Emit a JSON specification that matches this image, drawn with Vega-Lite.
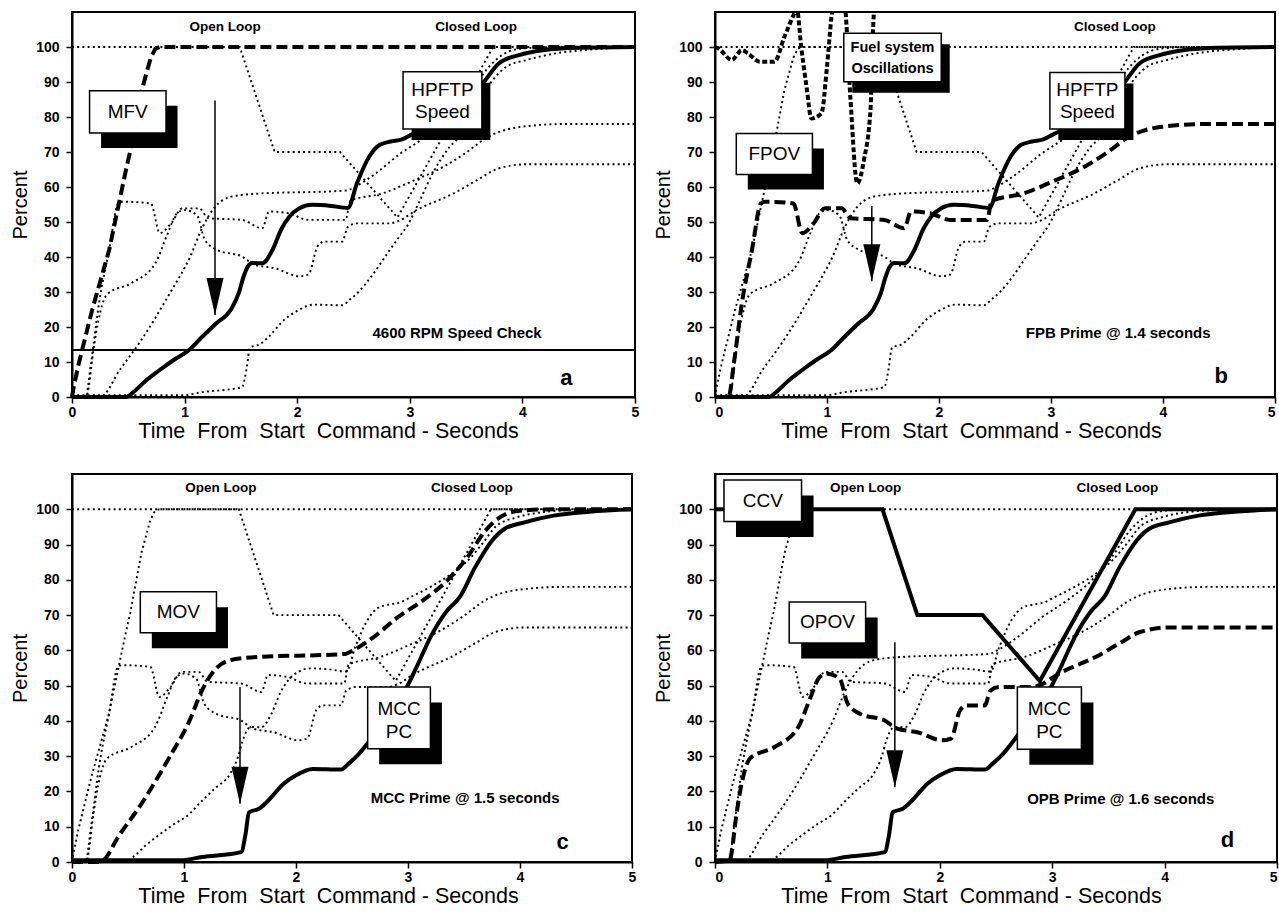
{
  "$schema": "https://vega.github.io/schema/vega-lite/v6.json",
  "background": "white",
  "padding": {"left": 9, "top": 11, "right": 0, "bottom": 0},
  "columns": 2,
  "spacing": {"row": 77, "column": 80},
  "bounds": "flush",
  "config": {
    "font": "Liberation Sans",
    "view": {"stroke": "black", "strokeWidth": 2},
    "text": {"font": "Liberation Sans", "color": "black"},
    "axis": {"grid": false, "domainColor": "black", "domainWidth": 2, "tickColor": "black", "tickWidth": 1.5, "tickSize": 6, "labelFont": "Liberation Sans", "labelFontWeight": "bold", "labelFontSize": 14, "labelColor": "black", "titleFont": "Liberation Sans", "titleFontWeight": "normal", "titleColor": "black", "labelFlush": false, "labelOverlap": false},
    "axisX": {"labelPadding": 2, "titleFontSize": 21.5, "titlePadding": 1, "titleX": 256},
    "axisY": {"labelPadding": 7, "titleFontSize": 20, "titlePadding": 5}
  },
  "datasets": {
    "traces": [
      {"s":"MFV","t":0,"v":0},{"s":"MFV","t":0.01,"v":2},{"s":"MFV","t":0.06,"v":9.6},{"s":"MFV","t":0.18,"v":25},{"s":"MFV","t":0.33,"v":42},{"s":"MFV","t":0.48,"v":65},{"s":"MFV","t":0.52,"v":70.6},{"s":"MFV","t":0.62,"v":87.7},{"s":"MFV","t":0.7,"v":97},{"s":"MFV","t":0.74,"v":99.5},{"s":"MFV","t":0.78,"v":100},{"s":"MFV","t":5,"v":100},
      {"s":"FPOV","t":0,"v":0},{"s":"FPOV","t":0.12,"v":0},{"s":"FPOV","t":0.17,"v":10},{"s":"FPOV","t":0.24,"v":26.8},{"s":"FPOV","t":0.33,"v":42},{"s":"FPOV","t":0.41,"v":55.3},{"s":"FPOV","t":0.45,"v":55.8},{"s":"FPOV","t":0.7,"v":55.3},{"s":"FPOV","t":0.78,"v":46.8},{"s":"FPOV","t":0.88,"v":49.6},{"s":"FPOV","t":0.98,"v":53.9},{"s":"FPOV","t":1.13,"v":53.9},{"s":"FPOV","t":1.21,"v":51.1},{"s":"FPOV","t":1.51,"v":50.6},{"s":"FPOV","t":1.69,"v":48.2},{"s":"FPOV","t":1.75,"v":53},{"s":"FPOV","t":1.92,"v":52.5},{"s":"FPOV","t":2.1,"v":50.6},{"s":"FPOV","t":2.43,"v":50.6},{"s":"FPOV","t":2.47,"v":56},{"s":"FPOV","t":2.76,"v":58.2},{"s":"FPOV","t":3.01,"v":61.5},{"s":"FPOV","t":3.3,"v":65.8},{"s":"FPOV","t":3.49,"v":69.6},{"s":"FPOV","t":3.7,"v":74.4},{"s":"FPOV","t":3.99,"v":77.2},{"s":"FPOV","t":4.39,"v":78},{"s":"FPOV","t":5,"v":78},
      {"s":"MOV","t":0,"v":0},{"s":"MOV","t":0.25,"v":0},{"s":"MOV","t":0.43,"v":8},{"s":"MOV","t":0.62,"v":16.5},{"s":"MOV","t":0.87,"v":29.7},{"s":"MOV","t":1.05,"v":40.1},{"s":"MOV","t":1.16,"v":48.6},{"s":"MOV","t":1.27,"v":54.3},{"s":"MOV","t":1.4,"v":57.1},{"s":"MOV","t":1.6,"v":58},{"s":"MOV","t":2.44,"v":59},{"s":"MOV","t":2.51,"v":60},{"s":"MOV","t":2.69,"v":63.7},{"s":"MOV","t":2.91,"v":69.4},{"s":"MOV","t":3.13,"v":74.1},{"s":"MOV","t":3.35,"v":79.8},{"s":"MOV","t":3.53,"v":86.4},{"s":"MOV","t":3.69,"v":93.9},{"s":"MOV","t":3.82,"v":97.7},{"s":"MOV","t":4.0,"v":99.6},{"s":"MOV","t":4.3,"v":100},{"s":"MOV","t":5,"v":100},
      {"s":"OPOV","t":0,"v":0},{"s":"OPOV","t":0.13,"v":0.5},{"s":"OPOV","t":0.15,"v":3},{"s":"OPOV","t":0.18,"v":10.9},{"s":"OPOV","t":0.25,"v":24.1},{"s":"OPOV","t":0.31,"v":29.3},{"s":"OPOV","t":0.53,"v":32.6},{"s":"OPOV","t":0.74,"v":38.2},{"s":"OPOV","t":0.85,"v":46.7},{"s":"OPOV","t":0.93,"v":52.4},{"s":"OPOV","t":1.0,"v":53.4},{"s":"OPOV","t":1.11,"v":51.9},{"s":"OPOV","t":1.18,"v":44.9},{"s":"OPOV","t":1.29,"v":42},{"s":"OPOV","t":1.51,"v":40.1},{"s":"OPOV","t":1.62,"v":37.8},{"s":"OPOV","t":1.8,"v":36.8},{"s":"OPOV","t":2.02,"v":34.5},{"s":"OPOV","t":2.1,"v":35},{"s":"OPOV","t":2.18,"v":43},{"s":"OPOV","t":2.24,"v":44.4},{"s":"OPOV","t":2.4,"v":44.4},{"s":"OPOV","t":2.45,"v":48.6},{"s":"OPOV","t":2.53,"v":49.6},{"s":"OPOV","t":2.82,"v":49.6},{"s":"OPOV","t":2.9,"v":50.3},{"s":"OPOV","t":3.06,"v":53.4},{"s":"OPOV","t":3.39,"v":58.2},{"s":"OPOV","t":3.6,"v":62},{"s":"OPOV","t":3.78,"v":65.2},{"s":"OPOV","t":4.04,"v":66.5},{"s":"OPOV","t":5,"v":66.5},
      {"s":"CCV","t":0,"v":100},{"s":"CCV","t":1.49,"v":100},{"s":"CCV","t":1.8,"v":70},{"s":"CCV","t":2.38,"v":70},{"s":"CCV","t":2.89,"v":51.3},{"s":"CCV","t":3.74,"v":100},{"s":"CCV","t":5,"v":100},
      {"s":"HPFTP","t":0,"v":0},{"s":"HPFTP","t":0.48,"v":0},{"s":"HPFTP","t":0.55,"v":1.5},{"s":"HPFTP","t":0.65,"v":4.5},{"s":"HPFTP","t":0.77,"v":7.5},{"s":"HPFTP","t":0.9,"v":10.5},{"s":"HPFTP","t":1.04,"v":13.4},{"s":"HPFTP","t":1.15,"v":17},{"s":"HPFTP","t":1.28,"v":21},{"s":"HPFTP","t":1.41,"v":24.9},{"s":"HPFTP","t":1.48,"v":29.6},{"s":"HPFTP","t":1.52,"v":34},{"s":"HPFTP","t":1.56,"v":37.2},{"s":"HPFTP","t":1.6,"v":38.3},{"s":"HPFTP","t":1.69,"v":38.2},{"s":"HPFTP","t":1.78,"v":42},{"s":"HPFTP","t":1.86,"v":48},{"s":"HPFTP","t":1.93,"v":51.5},{"s":"HPFTP","t":2.02,"v":53.9},{"s":"HPFTP","t":2.13,"v":54.9},{"s":"HPFTP","t":2.3,"v":54.6},{"s":"HPFTP","t":2.45,"v":54},{"s":"HPFTP","t":2.53,"v":61},{"s":"HPFTP","t":2.64,"v":68.7},{"s":"HPFTP","t":2.73,"v":72},{"s":"HPFTP","t":2.83,"v":73},{"s":"HPFTP","t":2.93,"v":73.6},{"s":"HPFTP","t":3.01,"v":74.9},{"s":"HPFTP","t":3.2,"v":78},{"s":"HPFTP","t":3.4,"v":82},{"s":"HPFTP","t":3.55,"v":86},{"s":"HPFTP","t":3.66,"v":90.1},{"s":"HPFTP","t":3.79,"v":95.3},{"s":"HPFTP","t":3.97,"v":97.7},{"s":"HPFTP","t":4.18,"v":99.1},{"s":"HPFTP","t":4.5,"v":99.8},{"s":"HPFTP","t":5,"v":100},
      {"s":"MCC","t":0,"v":0.5},{"s":"MCC","t":0.98,"v":0.5},{"s":"MCC","t":1.16,"v":1.4},{"s":"MCC","t":1.51,"v":2.8},{"s":"MCC","t":1.55,"v":8},{"s":"MCC","t":1.58,"v":14.1},{"s":"MCC","t":1.67,"v":15.1},{"s":"MCC","t":1.74,"v":17},{"s":"MCC","t":1.89,"v":22.2},{"s":"MCC","t":2.0,"v":24.6},{"s":"MCC","t":2.15,"v":26.4},{"s":"MCC","t":2.4,"v":26.2},{"s":"MCC","t":2.47,"v":27.9},{"s":"MCC","t":2.55,"v":30.2},{"s":"MCC","t":2.66,"v":34.5},{"s":"MCC","t":2.8,"v":41},{"s":"MCC","t":2.9,"v":45.5},{"s":"MCC","t":2.98,"v":49.1},{"s":"MCC","t":3.09,"v":56.2},{"s":"MCC","t":3.2,"v":63.7},{"s":"MCC","t":3.35,"v":71.3},{"s":"MCC","t":3.46,"v":75},{"s":"MCC","t":3.6,"v":83.6},{"s":"MCC","t":3.75,"v":91.1},{"s":"MCC","t":3.86,"v":94.4},{"s":"MCC","t":4.04,"v":96.3},{"s":"MCC","t":4.3,"v":98.2},{"s":"MCC","t":4.62,"v":99.3},{"s":"MCC","t":5,"v":100}
    ],
    "osc": [
      {"t":0,"v":100},{"t":0.03,"v":99.6},{"t":0.15,"v":96.3},{"t":0.24,"v":99.1},{"t":0.3,"v":98},{"t":0.4,"v":95.8},{"t":0.53,"v":95.8},{"t":0.62,"v":102.9},{"t":0.7,"v":109},{"t":0.73,"v":111},{"t":0.77,"v":100},{"t":0.82,"v":88},{"t":0.86,"v":79.6},{"t":0.95,"v":81},{"t":1.0,"v":94.4},{"t":1.04,"v":108.7},{"t":1.1,"v":120},{"t":1.16,"v":112},{"t":1.21,"v":84.9},{"t":1.27,"v":61},{"t":1.33,"v":67.7},{"t":1.39,"v":83},{"t":1.41,"v":103.9},{"t":1.44,"v":120}
    ],
    "boxes": [
      {"p":"a","label":"MFV","t1":0.156,"t2":0.835,"v1":75.4,"v2":87.5,"tc":0.495,"vc":81.5},
      {"p":"a","label":"HPFTP\nSpeed","t1":2.94,"t2":3.64,"v1":76.6,"v2":92.9,"tc":3.29,"vc":87.8},
      {"p":"b","label":"Fuel system\nOscillations","t1":1.15,"t2":2.02,"v1":90.1,"v2":103.9,"tc":1.585,"vc":99.8},
      {"p":"b","label":"FPOV","t1":0.19,"t2":0.87,"v1":63.6,"v2":75.3,"tc":0.53,"vc":69.5},
      {"p":"b","label":"HPFTP\nSpeed","t1":2.99,"t2":3.66,"v1":76.6,"v2":92.7,"tc":3.325,"vc":87.7},
      {"p":"c","label":"MOV","t1":0.61,"t2":1.29,"v1":65.0,"v2":76.6,"tc":0.95,"vc":70.8},
      {"p":"c","label":"MCC\nPC","t1":2.64,"t2":3.2,"v1":32.1,"v2":49.6,"tc":2.92,"vc":43.5},
      {"p":"d","label":"CCV","t1":0.08,"t2":0.77,"v1":96.5,"v2":108.3,"tc":0.425,"vc":102.4},
      {"p":"d","label":"OPOV","t1":0.66,"t2":1.34,"v1":62.1,"v2":73.7,"tc":1.0,"vc":67.9},
      {"p":"d","label":"MCC\nPC","t1":2.69,"t2":3.26,"v1":32.0,"v2":49.6,"tc":2.975,"vc":43.5}
    ],
    "loops": [
      {"p":"a","txt":"Open Loop","t":1.36,"v":105.8},{"p":"a","txt":"Closed Loop","t":3.59,"v":105.8},
      {"p":"b","txt":"Closed Loop","t":3.57,"v":105.8},
      {"p":"c","txt":"Open Loop","t":1.33,"v":106},{"p":"c","txt":"Closed Loop","t":3.57,"v":106},
      {"p":"d","txt":"Open Loop","t":1.34,"v":106},{"p":"d","txt":"Closed Loop","t":3.58,"v":106}
    ],
    "notes": [
      {"p":"a","txt":"4600 RPM Speed Check","t":3.42,"v":18.3},
      {"p":"b","txt":"FPB Prime @ 1.4 seconds","t":3.6,"v":18.3},
      {"p":"c","txt":"MCC Prime @ 1.5 seconds","t":3.51,"v":18.2},
      {"p":"d","txt":"OPB Prime @ 1.6 seconds","t":3.61,"v":18}
    ],
    "letters": [
      {"p":"a","txt":"a","t":4.39,"v":5.5},{"p":"b","txt":"b","t":4.52,"v":6},{"p":"c","txt":"c","t":4.38,"v":5.7},{"p":"d","txt":"d","t":4.56,"v":6.2}
    ],
    "arrows": [
      {"p":"a","t":1.27,"top":84.7,"tip":23.4},
      {"p":"b","t":1.4,"top":54.6,"tip":33.1},
      {"p":"c","t":1.5,"top":49.6,"tip":16.5},
      {"p":"d","t":1.6,"top":62.3,"tip":21.2}
    ]
  },
  "concat": [
    {
      "width": 563, "height": 385,
      "resolve": {"axis": {"x": "independent", "y": "independent"}},
      "layer": [
        {"data": {"name": "traces"}, "transform": [{"filter": "datum.s === 'FPOV' || datum.s === 'MOV' || datum.s === 'OPOV' || datum.s === 'MCC'"}],
         "mark": {"type": "line", "interpolate": "monotone", "color": "black", "strokeWidth": 1.9, "strokeDash": [2, 3.2], "strokeCap": "butt"},
         "encoding": {
           "x": {"field": "t", "type": "quantitative", "scale": {"domain": [0, 5], "nice": false}, "axis": {"values": [0, 1, 2, 3, 4, 5], "format": "d", "labelOverlap": false, "labelFlush": false, "title": "Time\u00a0 From\u00a0 Start\u00a0 Command - Seconds"}},
           "y": {"field": "v", "type": "quantitative", "scale": {"domain": [0, 110], "nice": false}, "axis": {"values": [0, 10, 20, 30, 40, 50, 60, 70, 80, 90, 100], "format": "d", "labelOverlap": false, "title": "Percent"}},
           "detail": {"field": "s"}}},
        {"data": {"name": "traces"}, "transform": [{"filter": "datum.s === 'CCV'"}],
         "mark": {"type": "line", "color": "black", "strokeWidth": 1.9, "strokeDash": [2, 3.2], "strokeCap": "butt"},
         "encoding": {"x": {"field": "t", "type": "quantitative", "axis": null}, "y": {"field": "v", "type": "quantitative", "axis": null}, "detail": {"field": "s"}}},
        {"data": {"name": "traces"}, "transform": [{"filter": "datum.s === 'MFV'"}],
         "mark": {"type": "line", "color": "black", "strokeWidth": 4, "strokeDash": [11, 5], "strokeCap": "butt"},
         "encoding": {"x": {"field": "t", "type": "quantitative", "axis": null}, "y": {"field": "v", "type": "quantitative", "axis": null}}},
        {"data": {"name": "traces"}, "transform": [{"filter": "datum.s === 'HPFTP'"}],
         "mark": {"type": "line", "interpolate": "monotone", "color": "black", "strokeWidth": 4},
         "encoding": {"x": {"field": "t", "type": "quantitative", "axis": null}, "y": {"field": "v", "type": "quantitative", "axis": null}}},
        {"data": {"values": [{"v": 13.4}]},
         "mark": {"type": "rule", "color": "black", "strokeWidth": 2},
         "encoding": {"y": {"field": "v", "type": "quantitative", "axis": null}}},
        {"data": {"name": "arrows"}, "transform": [{"filter": "datum.p === 'a'"}],
         "mark": {"type": "rule", "color": "black", "strokeWidth": 1.5},
         "encoding": {"x": {"field": "t", "type": "quantitative", "axis": null}, "y": {"field": "top", "type": "quantitative", "axis": null}, "y2": {"field": "tip"}}},
        {"data": {"name": "arrows"}, "transform": [{"filter": "datum.p === 'a'"}],
         "mark": {"type": "point", "shape": "M-0.46,-2L0.46,-2L0,0Z", "size": 1369, "filled": true, "color": "black", "opacity": 1, "strokeWidth": 0},
         "encoding": {"x": {"field": "t", "type": "quantitative", "axis": null}, "y": {"field": "tip", "type": "quantitative", "axis": null}}},
        {"data": {"name": "boxes"}, "transform": [{"filter": "datum.p === 'a' && indexof(datum.label, 'HPFTP') < 0 && indexof(datum.label, 'Fuel') < 0"}],
         "mark": {"type": "rect", "color": "black", "xOffset": 11.5, "x2Offset": 11.5, "yOffset": 15, "y2Offset": 15},
         "encoding": {"x": {"field": "t1", "type": "quantitative", "axis": null}, "x2": {"field": "t2"}, "y": {"field": "v1", "type": "quantitative", "axis": null}, "y2": {"field": "v2"}}},
        {"data": {"name": "boxes"}, "transform": [{"filter": "datum.p === 'a' && (indexof(datum.label, 'HPFTP') >= 0 || indexof(datum.label, 'Fuel') >= 0)"}],
         "mark": {"type": "rect", "color": "black", "xOffset": 8.5, "x2Offset": 8.5, "yOffset": 11, "y2Offset": 11},
         "encoding": {"x": {"field": "t1", "type": "quantitative", "axis": null}, "x2": {"field": "t2"}, "y": {"field": "v1", "type": "quantitative", "axis": null}, "y2": {"field": "v2"}}},
        {"data": {"name": "boxes"}, "transform": [{"filter": "datum.p === 'a'"}],
         "mark": {"type": "rect", "fill": "white", "stroke": "black", "strokeWidth": 1.5},
         "encoding": {"x": {"field": "t1", "type": "quantitative", "axis": null}, "x2": {"field": "t2"}, "y": {"field": "v1", "type": "quantitative", "axis": null}, "y2": {"field": "v2"}}},
        {"data": {"name": "boxes"}, "transform": [{"filter": "datum.p === 'a'"}],
         "mark": {"type": "text", "fontSize": 19, "lineHeight": 22, "lineBreak": "\n", "align": "center", "baseline": "middle"},
         "encoding": {"x": {"field": "tc", "type": "quantitative", "axis": null}, "y": {"field": "vc", "type": "quantitative", "axis": null}, "text": {"field": "label"}}},
        {"data": {"name": "loops"}, "transform": [{"filter": "datum.p === 'a'"}],
         "mark": {"type": "text", "fontSize": 13.5, "fontWeight": "bold", "align": "center", "baseline": "middle"},
         "encoding": {"x": {"field": "t", "type": "quantitative", "axis": null}, "y": {"field": "v", "type": "quantitative", "axis": null}, "text": {"field": "txt"}}},
        {"data": {"name": "notes"}, "transform": [{"filter": "datum.p === 'a'"}],
         "mark": {"type": "text", "fontSize": 15, "fontWeight": "bold", "align": "center", "baseline": "middle"},
         "encoding": {"x": {"field": "t", "type": "quantitative", "axis": null}, "y": {"field": "v", "type": "quantitative", "axis": null}, "text": {"field": "txt"}}},
        {"data": {"name": "letters"}, "transform": [{"filter": "datum.p === 'a'"}],
         "mark": {"type": "text", "fontSize": 22, "fontWeight": "bold", "align": "center", "baseline": "middle"},
         "encoding": {"x": {"field": "t", "type": "quantitative", "axis": null}, "y": {"field": "v", "type": "quantitative", "axis": null}, "text": {"field": "txt"}}}
      ]
    },
    {
      "width": 560, "height": 385,
      "resolve": {"axis": {"x": "independent", "y": "independent"}},
      "layer": [
        {"data": {"name": "traces"}, "transform": [{"filter": "datum.s === 'MOV' || datum.s === 'OPOV' || datum.s === 'MCC'"}],
         "mark": {"type": "line", "interpolate": "monotone", "color": "black", "strokeWidth": 1.9, "strokeDash": [2, 3.2], "strokeCap": "butt"},
         "encoding": {
           "x": {"field": "t", "type": "quantitative", "scale": {"domain": [0, 5], "nice": false}, "axis": {"values": [0, 1, 2, 3, 4, 5], "format": "d", "labelOverlap": false, "labelFlush": true, "title": "Time\u00a0 From\u00a0 Start\u00a0 Command - Seconds"}},
           "y": {"field": "v", "type": "quantitative", "scale": {"domain": [0, 110], "nice": false}, "axis": {"values": [0, 10, 20, 30, 40, 50, 60, 70, 80, 90, 100], "format": "d", "labelOverlap": false, "title": "Percent"}},
           "detail": {"field": "s"}}},
        {"data": {"name": "traces"}, "transform": [{"filter": "datum.s === 'CCV' || datum.s === 'MFV'"}],
         "mark": {"type": "line", "color": "black", "strokeWidth": 1.9, "strokeDash": [2, 3.2], "strokeCap": "butt"},
         "encoding": {"x": {"field": "t", "type": "quantitative", "axis": null}, "y": {"field": "v", "type": "quantitative", "axis": null}, "detail": {"field": "s"}}},
        {"data": {"name": "osc"},
         "mark": {"type": "line", "interpolate": "monotone", "clip": true, "color": "black", "strokeWidth": 4, "strokeDash": [5, 2.5], "strokeCap": "butt"},
         "encoding": {"x": {"field": "t", "type": "quantitative", "axis": null, "scale": {"domain": [0, 5], "nice": false}}, "y": {"field": "v", "type": "quantitative", "axis": null, "scale": {"domain": [0, 110], "nice": false}}}},
        {"data": {"name": "traces"}, "transform": [{"filter": "datum.s === 'FPOV'"}],
         "mark": {"type": "line", "interpolate": "monotone", "color": "black", "strokeWidth": 4, "strokeDash": [11, 5], "strokeCap": "butt"},
         "encoding": {"x": {"field": "t", "type": "quantitative", "axis": null}, "y": {"field": "v", "type": "quantitative", "axis": null}}},
        {"data": {"name": "traces"}, "transform": [{"filter": "datum.s === 'HPFTP'"}],
         "mark": {"type": "line", "interpolate": "monotone", "color": "black", "strokeWidth": 4},
         "encoding": {"x": {"field": "t", "type": "quantitative", "axis": null}, "y": {"field": "v", "type": "quantitative", "axis": null}}},
        {"data": {"name": "arrows"}, "transform": [{"filter": "datum.p === 'b'"}],
         "mark": {"type": "rule", "color": "black", "strokeWidth": 1.5},
         "encoding": {"x": {"field": "t", "type": "quantitative", "axis": null}, "y": {"field": "top", "type": "quantitative", "axis": null}, "y2": {"field": "tip"}}},
        {"data": {"name": "arrows"}, "transform": [{"filter": "datum.p === 'b'"}],
         "mark": {"type": "point", "shape": "M-0.46,-2L0.46,-2L0,0Z", "size": 1369, "filled": true, "color": "black", "opacity": 1, "strokeWidth": 0},
         "encoding": {"x": {"field": "t", "type": "quantitative", "axis": null}, "y": {"field": "tip", "type": "quantitative", "axis": null}}},
        {"data": {"name": "boxes"}, "transform": [{"filter": "datum.p === 'b' && indexof(datum.label, 'HPFTP') < 0 && indexof(datum.label, 'Fuel') < 0"}],
         "mark": {"type": "rect", "color": "black", "xOffset": 11.5, "x2Offset": 11.5, "yOffset": 15, "y2Offset": 15},
         "encoding": {"x": {"field": "t1", "type": "quantitative", "axis": null}, "x2": {"field": "t2"}, "y": {"field": "v1", "type": "quantitative", "axis": null}, "y2": {"field": "v2"}}},
        {"data": {"name": "boxes"}, "transform": [{"filter": "datum.p === 'b' && (indexof(datum.label, 'HPFTP') >= 0 || indexof(datum.label, 'Fuel') >= 0)"}],
         "mark": {"type": "rect", "color": "black", "xOffset": 8.5, "x2Offset": 8.5, "yOffset": 11, "y2Offset": 11},
         "encoding": {"x": {"field": "t1", "type": "quantitative", "axis": null}, "x2": {"field": "t2"}, "y": {"field": "v1", "type": "quantitative", "axis": null}, "y2": {"field": "v2"}}},
        {"data": {"name": "boxes"}, "transform": [{"filter": "datum.p === 'b'"}],
         "mark": {"type": "rect", "fill": "white", "stroke": "black", "strokeWidth": 1.5},
         "encoding": {"x": {"field": "t1", "type": "quantitative", "axis": null}, "x2": {"field": "t2"}, "y": {"field": "v1", "type": "quantitative", "axis": null}, "y2": {"field": "v2"}}},
        {"data": {"name": "boxes"}, "transform": [{"filter": "datum.p === 'b' && indexof(datum.label, 'Fuel') < 0"}],
         "mark": {"type": "text", "fontSize": 19, "lineHeight": 22, "lineBreak": "\n", "align": "center", "baseline": "middle"},
         "encoding": {"x": {"field": "tc", "type": "quantitative", "axis": null}, "y": {"field": "vc", "type": "quantitative", "axis": null}, "text": {"field": "label"}}},
        {"data": {"name": "boxes"}, "transform": [{"filter": "datum.p === 'b' && indexof(datum.label, 'Fuel') >= 0"}],
         "mark": {"type": "text", "fontSize": 14.5, "fontWeight": "bold", "lineHeight": 21, "lineBreak": "\n", "align": "center", "baseline": "middle"},
         "encoding": {"x": {"field": "tc", "type": "quantitative", "axis": null}, "y": {"field": "vc", "type": "quantitative", "axis": null}, "text": {"field": "label"}}},
        {"data": {"name": "loops"}, "transform": [{"filter": "datum.p === 'b'"}],
         "mark": {"type": "text", "fontSize": 13.5, "fontWeight": "bold", "align": "center", "baseline": "middle"},
         "encoding": {"x": {"field": "t", "type": "quantitative", "axis": null}, "y": {"field": "v", "type": "quantitative", "axis": null}, "text": {"field": "txt"}}},
        {"data": {"name": "notes"}, "transform": [{"filter": "datum.p === 'b'"}],
         "mark": {"type": "text", "fontSize": 15, "fontWeight": "bold", "align": "center", "baseline": "middle"},
         "encoding": {"x": {"field": "t", "type": "quantitative", "axis": null}, "y": {"field": "v", "type": "quantitative", "axis": null}, "text": {"field": "txt"}}},
        {"data": {"name": "letters"}, "transform": [{"filter": "datum.p === 'b'"}],
         "mark": {"type": "text", "fontSize": 22, "fontWeight": "bold", "align": "center", "baseline": "middle"},
         "encoding": {"x": {"field": "t", "type": "quantitative", "axis": null}, "y": {"field": "v", "type": "quantitative", "axis": null}, "text": {"field": "txt"}}}
      ]
    },
    {
      "width": 560, "height": 388,
      "resolve": {"axis": {"x": "independent", "y": "independent"}},
      "layer": [
        {"data": {"name": "traces"}, "transform": [{"filter": "datum.s === 'FPOV' || datum.s === 'OPOV' || datum.s === 'HPFTP'"}],
         "mark": {"type": "line", "interpolate": "monotone", "color": "black", "strokeWidth": 1.9, "strokeDash": [2, 3.2], "strokeCap": "butt"},
         "encoding": {
           "x": {"field": "t", "type": "quantitative", "scale": {"domain": [0, 5], "nice": false}, "axis": {"values": [0, 1, 2, 3, 4, 5], "format": "d", "labelOverlap": false, "labelFlush": false, "title": "Time\u00a0 From\u00a0 Start\u00a0 Command - Seconds"}},
           "y": {"field": "v", "type": "quantitative", "scale": {"domain": [0, 110], "nice": false}, "axis": {"values": [0, 10, 20, 30, 40, 50, 60, 70, 80, 90, 100], "format": "d", "labelOverlap": false, "title": "Percent"}},
           "detail": {"field": "s"}}},
        {"data": {"name": "traces"}, "transform": [{"filter": "datum.s === 'CCV' || datum.s === 'MFV'"}],
         "mark": {"type": "line", "color": "black", "strokeWidth": 1.9, "strokeDash": [2, 3.2], "strokeCap": "butt"},
         "encoding": {"x": {"field": "t", "type": "quantitative", "axis": null}, "y": {"field": "v", "type": "quantitative", "axis": null}, "detail": {"field": "s"}}},
        {"data": {"name": "traces"}, "transform": [{"filter": "datum.s === 'MOV'"}],
         "mark": {"type": "line", "interpolate": "monotone", "color": "black", "strokeWidth": 4, "strokeDash": [11, 5], "strokeCap": "butt"},
         "encoding": {"x": {"field": "t", "type": "quantitative", "axis": null}, "y": {"field": "v", "type": "quantitative", "axis": null}}},
        {"data": {"name": "traces"}, "transform": [{"filter": "datum.s === 'MCC'"}],
         "mark": {"type": "line", "interpolate": "monotone", "color": "black", "strokeWidth": 4},
         "encoding": {"x": {"field": "t", "type": "quantitative", "axis": null}, "y": {"field": "v", "type": "quantitative", "axis": null}}},
        {"data": {"name": "arrows"}, "transform": [{"filter": "datum.p === 'c'"}],
         "mark": {"type": "rule", "color": "black", "strokeWidth": 1.5},
         "encoding": {"x": {"field": "t", "type": "quantitative", "axis": null}, "y": {"field": "top", "type": "quantitative", "axis": null}, "y2": {"field": "tip"}}},
        {"data": {"name": "arrows"}, "transform": [{"filter": "datum.p === 'c'"}],
         "mark": {"type": "point", "shape": "M-0.46,-2L0.46,-2L0,0Z", "size": 1369, "filled": true, "color": "black", "opacity": 1, "strokeWidth": 0},
         "encoding": {"x": {"field": "t", "type": "quantitative", "axis": null}, "y": {"field": "tip", "type": "quantitative", "axis": null}}},
        {"data": {"name": "boxes"}, "transform": [{"filter": "datum.p === 'c'"}],
         "mark": {"type": "rect", "color": "black", "xOffset": 11.5, "x2Offset": 11.5, "yOffset": 15.5, "y2Offset": 15.5},
         "encoding": {"x": {"field": "t1", "type": "quantitative", "axis": null}, "x2": {"field": "t2"}, "y": {"field": "v1", "type": "quantitative", "axis": null}, "y2": {"field": "v2"}}},
        {"data": {"name": "boxes"}, "transform": [{"filter": "datum.p === 'c'"}],
         "mark": {"type": "rect", "fill": "white", "stroke": "black", "strokeWidth": 1.5},
         "encoding": {"x": {"field": "t1", "type": "quantitative", "axis": null}, "x2": {"field": "t2"}, "y": {"field": "v1", "type": "quantitative", "axis": null}, "y2": {"field": "v2"}}},
        {"data": {"name": "boxes"}, "transform": [{"filter": "datum.p === 'c'"}],
         "mark": {"type": "text", "fontSize": 19, "lineHeight": 23, "lineBreak": "\n", "align": "center", "baseline": "middle"},
         "encoding": {"x": {"field": "tc", "type": "quantitative", "axis": null}, "y": {"field": "vc", "type": "quantitative", "axis": null}, "text": {"field": "label"}}},
        {"data": {"name": "loops"}, "transform": [{"filter": "datum.p === 'c'"}],
         "mark": {"type": "text", "fontSize": 13.5, "fontWeight": "bold", "align": "center", "baseline": "middle"},
         "encoding": {"x": {"field": "t", "type": "quantitative", "axis": null}, "y": {"field": "v", "type": "quantitative", "axis": null}, "text": {"field": "txt"}}},
        {"data": {"name": "notes"}, "transform": [{"filter": "datum.p === 'c'"}],
         "mark": {"type": "text", "fontSize": 15, "fontWeight": "bold", "align": "center", "baseline": "middle"},
         "encoding": {"x": {"field": "t", "type": "quantitative", "axis": null}, "y": {"field": "v", "type": "quantitative", "axis": null}, "text": {"field": "txt"}}},
        {"data": {"name": "letters"}, "transform": [{"filter": "datum.p === 'c'"}],
         "mark": {"type": "text", "fontSize": 22, "fontWeight": "bold", "align": "center", "baseline": "middle"},
         "encoding": {"x": {"field": "t", "type": "quantitative", "axis": null}, "y": {"field": "v", "type": "quantitative", "axis": null}, "text": {"field": "txt"}}}
      ]
    },
    {
      "width": 562, "height": 388,
      "resolve": {"axis": {"x": "independent", "y": "independent"}},
      "layer": [
        {"data": {"name": "traces"}, "transform": [{"filter": "datum.s === 'FPOV' || datum.s === 'MOV' || datum.s === 'HPFTP'"}],
         "mark": {"type": "line", "interpolate": "monotone", "color": "black", "strokeWidth": 1.9, "strokeDash": [2, 3.2], "strokeCap": "butt"},
         "encoding": {
           "x": {"field": "t", "type": "quantitative", "scale": {"domain": [0, 5], "nice": false}, "axis": {"values": [0, 1, 2, 3, 4, 5], "format": "d", "labelOverlap": false, "labelFlush": true, "title": "Time\u00a0 From\u00a0 Start\u00a0 Command - Seconds"}},
           "y": {"field": "v", "type": "quantitative", "scale": {"domain": [0, 110], "nice": false}, "axis": {"values": [0, 10, 20, 30, 40, 50, 60, 70, 80, 90, 100], "format": "d", "labelOverlap": false, "title": "Percent"}},
           "detail": {"field": "s"}}},
        {"data": {"name": "traces"}, "transform": [{"filter": "datum.s === 'MFV'"}],
         "mark": {"type": "line", "color": "black", "strokeWidth": 1.9, "strokeDash": [2, 3.2], "strokeCap": "butt"},
         "encoding": {"x": {"field": "t", "type": "quantitative", "axis": null}, "y": {"field": "v", "type": "quantitative", "axis": null}, "detail": {"field": "s"}}},
        {"data": {"name": "traces"}, "transform": [{"filter": "datum.s === 'OPOV'"}],
         "mark": {"type": "line", "interpolate": "monotone", "color": "black", "strokeWidth": 4, "strokeDash": [11, 5], "strokeCap": "butt"},
         "encoding": {"x": {"field": "t", "type": "quantitative", "axis": null}, "y": {"field": "v", "type": "quantitative", "axis": null}}},
        {"data": {"name": "traces"}, "transform": [{"filter": "datum.s === 'MCC'"}],
         "mark": {"type": "line", "interpolate": "monotone", "color": "black", "strokeWidth": 4},
         "encoding": {"x": {"field": "t", "type": "quantitative", "axis": null}, "y": {"field": "v", "type": "quantitative", "axis": null}}},
        {"data": {"name": "traces"}, "transform": [{"filter": "datum.s === 'CCV'"}],
         "mark": {"type": "line", "color": "black", "strokeWidth": 4},
         "encoding": {"x": {"field": "t", "type": "quantitative", "axis": null}, "y": {"field": "v", "type": "quantitative", "axis": null}}},
        {"data": {"name": "arrows"}, "transform": [{"filter": "datum.p === 'd'"}],
         "mark": {"type": "rule", "color": "black", "strokeWidth": 1.5},
         "encoding": {"x": {"field": "t", "type": "quantitative", "axis": null}, "y": {"field": "top", "type": "quantitative", "axis": null}, "y2": {"field": "tip"}}},
        {"data": {"name": "arrows"}, "transform": [{"filter": "datum.p === 'd'"}],
         "mark": {"type": "point", "shape": "M-0.46,-2L0.46,-2L0,0Z", "size": 1369, "filled": true, "color": "black", "opacity": 1, "strokeWidth": 0},
         "encoding": {"x": {"field": "t", "type": "quantitative", "axis": null}, "y": {"field": "tip", "type": "quantitative", "axis": null}}},
        {"data": {"name": "boxes"}, "transform": [{"filter": "datum.p === 'd'"}],
         "mark": {"type": "rect", "color": "black", "xOffset": 12, "x2Offset": 12, "yOffset": 15.5, "y2Offset": 15.5},
         "encoding": {"x": {"field": "t1", "type": "quantitative", "axis": null}, "x2": {"field": "t2"}, "y": {"field": "v1", "type": "quantitative", "axis": null}, "y2": {"field": "v2"}}},
        {"data": {"name": "boxes"}, "transform": [{"filter": "datum.p === 'd'"}],
         "mark": {"type": "rect", "fill": "white", "stroke": "black", "strokeWidth": 1.5},
         "encoding": {"x": {"field": "t1", "type": "quantitative", "axis": null}, "x2": {"field": "t2"}, "y": {"field": "v1", "type": "quantitative", "axis": null}, "y2": {"field": "v2"}}},
        {"data": {"name": "boxes"}, "transform": [{"filter": "datum.p === 'd'"}],
         "mark": {"type": "text", "fontSize": 19, "lineHeight": 23, "lineBreak": "\n", "align": "center", "baseline": "middle"},
         "encoding": {"x": {"field": "tc", "type": "quantitative", "axis": null}, "y": {"field": "vc", "type": "quantitative", "axis": null}, "text": {"field": "label"}}},
        {"data": {"name": "loops"}, "transform": [{"filter": "datum.p === 'd'"}],
         "mark": {"type": "text", "fontSize": 13.5, "fontWeight": "bold", "align": "center", "baseline": "middle"},
         "encoding": {"x": {"field": "t", "type": "quantitative", "axis": null}, "y": {"field": "v", "type": "quantitative", "axis": null}, "text": {"field": "txt"}}},
        {"data": {"name": "notes"}, "transform": [{"filter": "datum.p === 'd'"}],
         "mark": {"type": "text", "fontSize": 15, "fontWeight": "bold", "align": "center", "baseline": "middle"},
         "encoding": {"x": {"field": "t", "type": "quantitative", "axis": null}, "y": {"field": "v", "type": "quantitative", "axis": null}, "text": {"field": "txt"}}},
        {"data": {"name": "letters"}, "transform": [{"filter": "datum.p === 'd'"}],
         "mark": {"type": "text", "fontSize": 22, "fontWeight": "bold", "align": "center", "baseline": "middle"},
         "encoding": {"x": {"field": "t", "type": "quantitative", "axis": null}, "y": {"field": "v", "type": "quantitative", "axis": null}, "text": {"field": "txt"}}}
      ]
    }
  ]
}
